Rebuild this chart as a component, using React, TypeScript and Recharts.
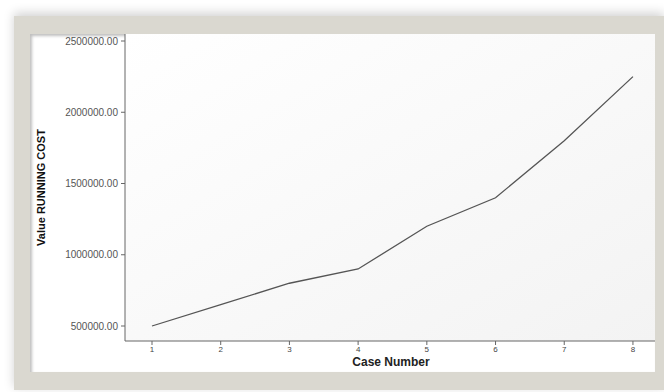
import React from 'react';
import { LineChart, Line, XAxis, YAxis, CartesianGrid } from 'recharts';

const caseNumbers = [1, 2, 3, 4, 5, 6, 7, 8];
const runningCost = [500000, 650000, 800000, 900000, 1200000, 1400000, 1800000, 2250000];
const yTicks = [500000, 1000000, 1500000, 2000000, 2500000];

const data = caseNumbers.map((c, i) => ({ caseNo: c, cost: runningCost[i] }));

const App: React.FC = () => {
  return (
    <div style={{ position: 'absolute', left: 0, top: 0, width: 664, height: 392, background: '#ffffff', overflow: 'hidden' }}>
      <div
        style={{
          position: 'absolute', left: 14, top: 16, width: 650, height: 374,
          background: '#dad8d0',
          boxShadow: '0 -3px 10px rgba(0,0,0,0.18)',
        }}
      />
      <div
        style={{
          position: 'absolute', left: 30, top: 34, width: 625, height: 338,
          background: '#ffffff', overflow: 'hidden',
          boxShadow: 'inset 2px 2px 3px rgba(0,0,0,0.25)',
        }}
      >
        <LineChart
          width={627}
          height={338}
          data={data}
          margin={{ top: 0, right: 0, bottom: 1, left: 11 }}
        >
          <defs>
            <linearGradient id="plotBg" x1="0" y1="0" x2="1" y2="1">
              <stop offset="0%" stopColor="#ffffff" />
              <stop offset="100%" stopColor="#f3f3f3" />
            </linearGradient>
          </defs>
          <CartesianGrid horizontal={false} vertical={false} fill="url(#plotBg)" />
          <XAxis
            dataKey="caseNo"
            type="number"
            domain={[0.607, 8.35]}
            ticks={caseNumbers}
            height={30}
            tickSize={4}
            tickMargin={1}
            stroke="#666"
            tick={{ fill: '#444', stroke: 'none', fontSize: 8, fontFamily: 'Liberation Sans' }}
            label={{
              value: 'Case Number',
              position: 'insideTop',
              offset: 16,
              fill: '#222',
              fontSize: 12,
              fontWeight: 'bold',
              fontFamily: 'Liberation Sans',
            }}
          />
          <YAxis
            type="number"
            domain={[394737, 2549123]}
            ticks={yTicks}
            width={84}
            tickSize={4}
            tickMargin={3}
            stroke="#666"
            allowDataOverflow
            tickFormatter={(v: number) => v.toFixed(2)}
            tick={{ fill: '#555', stroke: 'none', fontSize: 10, fontFamily: 'Liberation Sans' }}
            label={{
              value: 'Value RUNNING COST',
              angle: -90,
              position: 'insideLeft',
              offset: 0,
              fill: '#111',
              fontSize: 11,
              fontWeight: 'bold',
              fontFamily: 'Liberation Sans Narrow, Liberation Sans',
              style: { textAnchor: 'middle' },
            }}
          />
          <Line
            type="linear"
            dataKey="cost"
            stroke="#555"
            strokeWidth={1.3}
            dot={false}
            isAnimationActive={false}
          />
        </LineChart>
      </div>
    </div>
  );
};

export default App;
